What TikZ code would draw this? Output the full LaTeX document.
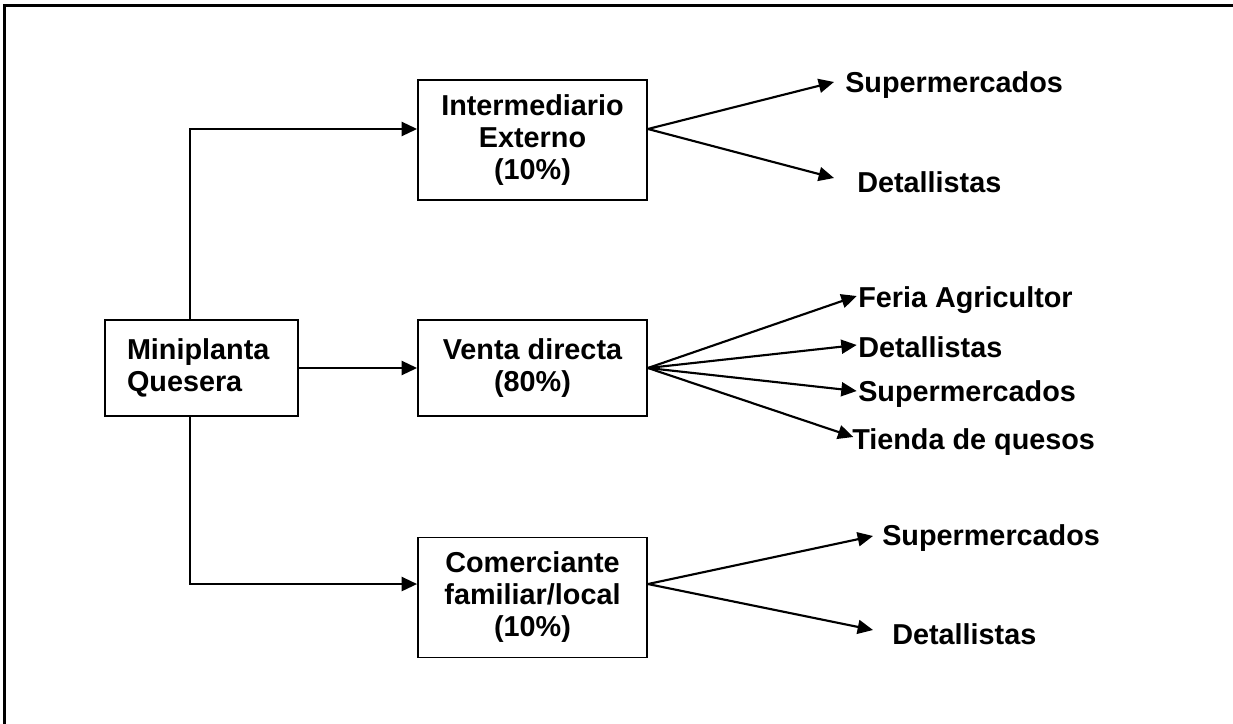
\documentclass[tikz,border=0pt]{standalone}
\usepackage{fontspec}
\setmainfont{Liberation Sans}
\usetikzlibrary{arrows.meta}
\begin{document}
\begin{tikzpicture}[x=0.75pt,y=-0.75pt,
  every node/.style={font=\bfseries\fontsize{21.6pt}{24pt}\selectfont},
  box/.style={draw,line width=1.4pt,inner sep=0pt,align=center,minimum width=171.75pt},
  lbl/.style={anchor=west,inner sep=0pt},
  arr/.style={line width=1.6pt,-{Triangle[length=11.5pt,width=10.5pt]}},
  fan/.style={line width=1.6pt,-{Triangle[length=11.5pt,width=10.5pt]}}]
\useasboundingbox (0,0) rectangle (1233,724);
% frame
\draw[line width=2.25pt] (4,724) -- (4,6) -- (1233,6);
% boxes
\node[draw,line width=1.4pt,inner xsep=16.5pt,inner ysep=0pt,text width=111.75pt,align=left,minimum height=72pt] (mini) at (201.5,368) {Miniplanta\\Quesera};
\node[box,minimum height=90pt] (inter) at (532.5,140) {Intermediario\\Externo\\(10\%)};
\node[box,minimum height=72pt] (venta) at (532.5,368) {Venta directa\\(80\%)};
\node[box,minimum height=90pt] (comer) at (532.5,597.5) {Comerciante\\familiar/local\\(10\%)};
% labels
\node[lbl] (s1) at (845,85) {Supermercados};
\node[lbl] (d1) at (857,182) {Detallistas};
\node[lbl] (f2) at (858,300) {Feria Agricultor};
\node[lbl] (d2) at (858,347) {Detallistas};
\node[lbl] (s2) at (858,394) {Supermercados};
\node[lbl] (t2) at (852,442) {Tienda de quesos};
\node[lbl] (s3) at (882,538) {Supermercados};
\node[lbl] (d3) at (892,634) {Detallistas};
% connectors from mini
\draw[arr] ([xshift=-8.6pt]mini.north) |- ([yshift=8.25pt]inter.west);
\draw[arr] (mini.east) -- (venta.west);
\draw[arr] ([xshift=-8.6pt]mini.south) |- ([yshift=10.1pt]comer.west);
% fans
\coordinate (o1) at ([yshift=8.25pt]inter.east);
\draw[fan] (o1) -- ([xshift=-8.25pt,yshift=2.25pt]s1.west);
\draw[fan] (o1) -- ([xshift=-17.25pt,yshift=3pt]d1.west);
\draw[fan] (venta.east) -- ([xshift=-1pt,yshift=3pt]f2.west);
\draw[fan] (venta.east) -- ([xshift=-1pt,yshift=1.5pt]d2.west);
\draw[fan] (venta.east) -- ([xshift=-1pt,yshift=2.25pt]s2.west);
\draw[fan] (venta.east) -- ([xshift=1pt,yshift=3.75pt]t2.west);
\coordinate (o3) at ([yshift=10.1pt]comer.east);
\draw[fan] (o3) -- ([xshift=-6.75pt,yshift=1.5pt]s3.west);
\draw[fan] (o3) -- ([xshift=-14.25pt,yshift=3pt]d3.west);
\end{tikzpicture}
\end{document}
